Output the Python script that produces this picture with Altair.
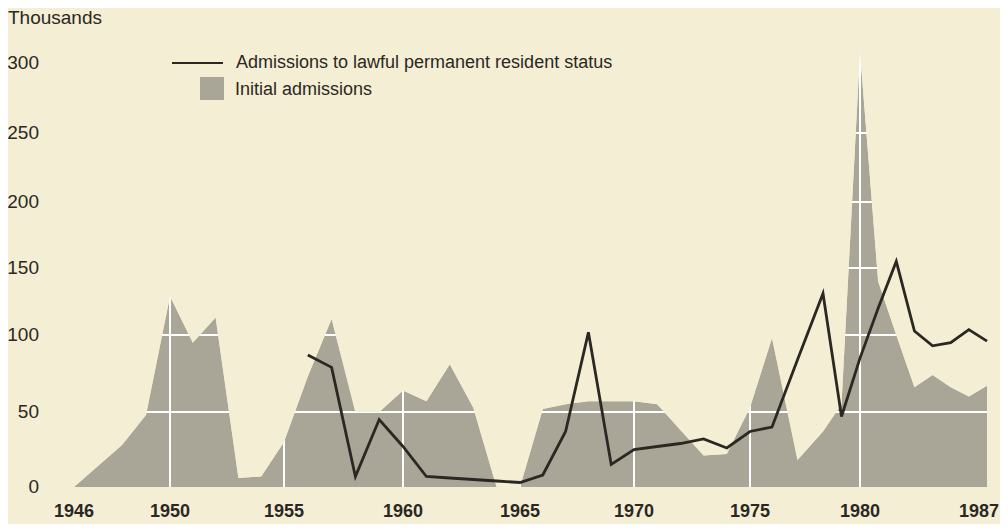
import altair as alt
import pandas as pd

# ---------------- data ----------------
years = list(range(1946, 1988))
initial_admissions = [0, 14, 28, 48, 129, 95, 113, 6, 7, 30,
                      73, 112, 50, 50, 64, 57, 81, 53, 0, 0,
                      52, 55, 57, 57, 57, 55, 38, 21, 22, 53,
                      98, 18, 37, 55, 308, 140, 100, 66, 74, 66,
                      60, 67]
lpr_years = list(range(1956, 1988))
lpr_admissions = [87, 79, 7, 45, 27, 7, 6, 5, 4, 3,
                  8, 37, 102, 15, 25, 27, 29, 32, 26, 37,
                  40, 84, 131, 47, 85, 120, 155, 103, 93, 95,
                  104, 96]
x_ticks = [1946, 1950, 1955, 1960, 1965, 1970, 1975, 1980, 1987]
y_ticks = [0, 50, 100, 150, 200, 250, 300]
grid_years = [1950, 1955, 1960, 1965, 1970, 1975, 1980]
grid_values = [50, 100, 150, 200, 250]
legend_labels = ["Admissions to lawful permanent resident status", "Initial admissions"]
unit_label = ["Thousands"]

# ---------------- style ----------------
BG = "#f3eed4"
AREA = "#a9a697"
INK = "#2b2823"
FONT = "Liberation Sans"

# printed figure has slightly uneven spacing -> piecewise scales
xs = alt.Scale(domain=[1946, 1950, 1955, 1960, 1965, 1970, 1975, 1976, 1978, 1980, 1987],
               range=[4, 100, 214, 333, 450, 564, 680, 702, 753, 790, 917],
               nice=False, zero=False)
ys = alt.Scale(domain=y_ticks, range=[447, 372, 295, 228, 162, 93, 23],
               nice=False, zero=False)

adf = pd.DataFrame({"year": years, "initial": initial_admissions})
ldf = pd.DataFrame({"year": lpr_years, "lpr": lpr_admissions})
hdf = pd.DataFrame({"v": grid_values, "x0": [years[0]] * len(grid_values),
                    "x1": [years[-1]] * len(grid_values)})
vdf = pd.DataFrame({"yr": grid_years, "y0": [0] * len(grid_years),
                    "y1": [320] * len(grid_years)})
xtdf = pd.DataFrame({"tick": x_ticks[:-1], "label": [str(t) for t in x_ticks[:-1]]})
xtlast = pd.DataFrame({"tick": x_ticks[-1:], "label": [str(t) for t in x_ticks[-1:]]})
ytdf = pd.DataFrame({"tick": y_ticks, "label": [str(t) for t in y_ticks]})

area = alt.Chart(adf).mark_area(color=AREA, interpolate="linear").encode(
    x=alt.X("year:Q", scale=xs, axis=None),
    y=alt.Y("initial:Q", scale=ys, axis=None, stack=None),
)

hgrid = alt.Chart(hdf).mark_rule(color="white", strokeWidth=2).encode(
    x=alt.X("x0:Q", scale=xs, axis=None),
    x2="x1:Q",
    y=alt.Y("v:Q", scale=ys, axis=None),
)

vgrid = alt.Chart(vdf).mark_rule(color="white", strokeWidth=2).encode(
    x=alt.X("yr:Q", scale=xs, axis=None),
    y=alt.Y("y0:Q", scale=ys, axis=None),
    y2="y1:Q",
)

# cover the grid above the filled area with the paper colour
cover = alt.Chart(adf).mark_area(color=BG, interpolate="linear").encode(
    x=alt.X("year:Q", scale=xs, axis=None),
    y=alt.Y("initial:Q", scale=ys, axis=None, stack=None),
    y2=alt.datum(320),
)

line = alt.Chart(ldf).mark_line(color=INK, strokeWidth=2.8).encode(
    x=alt.X("year:Q", scale=xs, axis=None),
    y=alt.Y("lpr:Q", scale=ys, axis=None),
)

# tick labels
xlab = alt.Chart(xtdf).mark_text(align="center", baseline="middle", font=FONT,
                                 fontSize=18, fontWeight="bold", color=INK).encode(
    x=alt.X("tick:Q", scale=xs, axis=None),
    y=alt.value(472),
    text="label:N",
)
xlab_last = alt.Chart(xtlast).mark_text(align="right", baseline="middle", font=FONT,
                                        fontSize=18, fontWeight="bold", color=INK,
                                        dx=12).encode(
    x=alt.X("tick:Q", scale=xs, axis=None),
    y=alt.value(472),
    text="label:N",
)
ylab = alt.Chart(ytdf).mark_text(align="right", baseline="middle", font=FONT,
                                 fontSize=19, color=INK).encode(
    x=alt.value(-31),
    y=alt.Y("tick:Q", scale=ys, axis=None),
    text="label:N",
)

lg1 = pd.DataFrame({"label": [legend_labels[0]]})
lg2 = pd.DataFrame({"label": [legend_labels[1]]})
ud = pd.DataFrame({"label": unit_label})

leg_line = alt.Chart(lg1).mark_rule(color=INK, strokeWidth=2).encode(
    x=alt.value(102), x2=alt.value(153), y=alt.value(23))
leg_text1 = alt.Chart(lg1).mark_text(align="left", baseline="middle", font=FONT,
                                     fontSize=18, color=INK).encode(
    x=alt.value(166), y=alt.value(23), text="label:N")
leg_rect = alt.Chart(lg2).mark_rect(color=AREA).encode(
    x=alt.value(130), x2=alt.value(154), y=alt.value(37), y2=alt.value(60))
leg_text2 = alt.Chart(lg2).mark_text(align="left", baseline="middle", font=FONT,
                                     fontSize=18, color=INK).encode(
    x=alt.value(165), y=alt.value(50), text="label:N")
unit_text = alt.Chart(ud).mark_text(align="left", baseline="middle", font=FONT,
                                    fontSize=19, color=INK).encode(
    x=alt.value(-62), y=alt.value(-22), text="label:N")

chart = alt.layer(
    area, hgrid, vgrid, cover, line, xlab, xlab_last, ylab,
    leg_line, leg_text1, leg_rect, leg_text2, unit_text
).properties(
    width=920, height=447,
    autosize=alt.AutoSizeParams(type="none"),
    padding={"left": 62, "top": 32, "right": 10, "bottom": 37},
    background=BG,
).configure_view(
    stroke=None
)

chart.save("out.html", embed_options={"renderer": "svg", "actions": False})
